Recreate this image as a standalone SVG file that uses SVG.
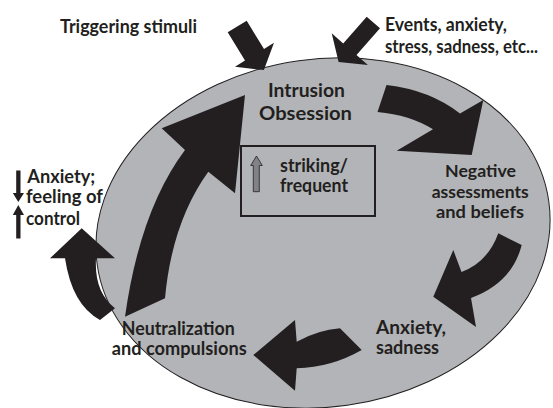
<svg xmlns="http://www.w3.org/2000/svg" width="553" height="408" viewBox="0 0 553 408">
<style>
.t{font-family:Lato,"Liberation Sans",sans-serif;font-weight:700;font-size:18px;fill:#231f20}
.s{font-size:17.5px}
.arr{fill:#231f20}
</style>
<rect width="553" height="408" fill="#fff"/>
<g id="cycle-ellipse">
<ellipse cx="323" cy="233" rx="228" ry="174" transform="rotate(-8 323 233)" fill="#b2b4b7" stroke="#231f20" stroke-width="1"/>
</g>
<g id="connectors">
<polygon class="arr" points="227.7,32.3 246.7,20.7 264,49 274,42.8 263.9,70 235,66.8 245,60.6"/>
<polygon class="arr" points="366.7,16.7 380,28.3 356.5,55 367.9,65.1 338.6,62 331.7,33.3 343.2,43.4"/>
<path class="arr" d="M386.5,85 Q430,90 460,113.5 L483.3,100 L471.7,155 L396.7,150.7 L433,129.3 Q410,115 377.5,112 Z"/>
<path class="arr" d="M498.3,233.3 L521.7,245 Q512,283 471,298 L476,327 L433.3,296.7 L453.3,250 L461.5,272 Q488,262 498.3,233.3 Z"/>
<path class="arr" d="M340,328.3 Q318,330 296.7,341.7 L295,320 L253.3,355 L295,390.7 L296.7,368.3 Q331,367.5 361.7,350 Z"/>
<path class="arr" d="M125,316.7 Q140,210 185,150 L161.7,128.3 L245,95 L235,193.3 L208.3,171.7 Q172,222 165,298.3 Z"/>
<path class="arr" d="M65,258.3 L50,258.3 L81.7,228.3 L115,258.3 L96,258.3 Q94,292 115,308.3 L100,320 Q72,305 65,258.3 Z"/>
</g>
<g id="triggering-stimuli">
<text class="t" x="60" y="33" textLength="137" lengthAdjust="spacingAndGlyphs">Triggering stimuli</text>
</g>
<g id="events">
<text class="t" x="385" y="30.5" textLength="122" lengthAdjust="spacingAndGlyphs">Events, anxiety,</text>
<text class="t" x="385" y="53" textLength="153" lengthAdjust="spacingAndGlyphs">stress, sadness, etc...</text>
</g>
<g id="intrusion-obsession">
<text class="t" x="268" y="97" textLength="77" lengthAdjust="spacingAndGlyphs">Intrusion</text>
<text class="t" x="259" y="120" textLength="93" lengthAdjust="spacingAndGlyphs">Obsession</text>
</g>
<g id="striking-frequent">
<rect x="241" y="146" width="134" height="70" fill="none" stroke="#231f20" stroke-width="2"/>
<polygon points="256.5,156 262.3,165.5 259.3,165.5 259.3,191.7 253.3,191.7 253.3,165.5 250.7,165.5" fill="#808285" stroke="#231f20" stroke-width="0.8"/>
<text class="t" x="280" y="172" textLength="68" lengthAdjust="spacingAndGlyphs">striking/</text>
<text class="t" x="280" y="192" textLength="68" lengthAdjust="spacingAndGlyphs">frequent</text>
</g>
<g id="negative-assessments">
<text class="t s" x="445" y="176.5" textLength="71" lengthAdjust="spacingAndGlyphs">Negative</text>
<text class="t s" x="431.7" y="197.5" textLength="97" lengthAdjust="spacingAndGlyphs">assessments</text>
<text class="t s" x="436" y="217.5" textLength="88" lengthAdjust="spacingAndGlyphs">and beliefs</text>
</g>
<g id="anxiety-sadness">
<text class="t" x="376" y="333.5" textLength="70" lengthAdjust="spacingAndGlyphs">Anxiety,</text>
<text class="t" x="376" y="353.5" textLength="63" lengthAdjust="spacingAndGlyphs">sadness</text>
</g>
<g id="neutralization">
<text class="t" x="121.7" y="335" textLength="113" lengthAdjust="spacingAndGlyphs">Neutralization</text>
<text class="t" x="111.7" y="355" textLength="135" lengthAdjust="spacingAndGlyphs">and compulsions</text>
</g>
<g id="anxiety-control">
<polygon class="arr" points="16.2,170.5 20.5,170.5 20.5,193 24,193 18.3,202 12.8,193 16.2,193"/>
<polygon class="arr" points="18.3,205 24,215 20.5,215 20.5,238.5 16.2,238.5 16.2,215 12.8,215"/>
<text class="t" x="27.3" y="183" textLength="68" lengthAdjust="spacingAndGlyphs">Anxiety;</text>
<text class="t" x="26" y="203" textLength="77" lengthAdjust="spacingAndGlyphs">feeling of</text>
<text class="t" x="26" y="225" textLength="54" lengthAdjust="spacingAndGlyphs">control</text>
</g>
</svg>
